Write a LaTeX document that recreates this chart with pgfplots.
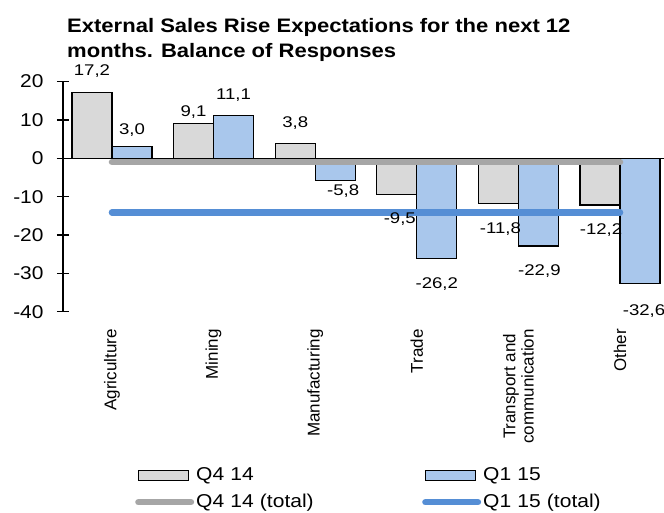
\documentclass[border=0pt]{standalone}
\usepackage{pgfplots}
\pgfplotsset{compat=1.18}
\usepackage{pgfplotstable}
\usepackage{fontspec}
\setmainfont{Liberation Sans}
\newfontfamily\tickfont{Liberation Sans}[FakeStretch=1.13]
\newfontfamily\labfont{Liberation Sans}[FakeStretch=1.2]
\newfontfamily\legfont{Liberation Sans}[FakeStretch=1.13]
\newfontfamily\titfont{Liberation Sans}[FakeStretch=1.13]
\definecolor{barGray}{HTML}{D9D9D9}
\definecolor{barBlue}{HTML}{A9C7EC}
\definecolor{lineGray}{HTML}{A6A6A6}
\definecolor{lineBlue}{HTML}{558ED5}

% x = category, y = balance, dx/dy = label offset in pt
\pgfplotstableread{
x  y     dx  dy
0  17.2  0   21.5
1  9.1   0   11.3
2  3.8   0   20.8
3  -9.5  3   -24.3
4  -11.8 2   -25.5
5  -12.2 1   -24.5
}\qfour
\pgfplotstableread{
x  y     dx  dy
0  3.0   0   16.5
1  11.1  0   20.8
2  -5.8  8   -10.3
3  -26.2 0   -25.5
4  -22.9 1   -25.3
5  -32.6 4   -27.3
}\qone

\pgfplotsset{
  barlabels/.style={nodes near coords={\pgfmathprintnumber[fixed,fixed zerofill,precision=1,use comma,assume math mode=true]{\pgfplotspointmeta}},
    visualization depends on={\thisrow{dx} \as \dx},
    visualization depends on={\thisrow{dy} \as \dy},
    nodes near coords style={anchor=center, xshift=#1, xshift=\dx pt, yshift=\dy pt, text=black,
      font=\labfont\fontsize{15.5}{17}\selectfont}},
  boxlegend/.style={legend image code/.code={\draw[##1] (3pt,-5pt) rectangle (53pt,5pt);}},
  linelegend/.style={legend image code/.code={\draw[##1] (3.25pt,0pt) -- (55.75pt,0pt);}},
}

\begin{document}
\begin{tikzpicture}
\begin{axis}[name=ax, scale only axis, width=601pt, height=230.1pt,
  xmin=-0.482, xmax=5.433, ymin=-40, ymax=20, clip=false,
  ytick={-40,-30,...,20},
  xtick={0,...,5},
  xticklabels={Agriculture,Mining,Manufacturing,Trade,{Transport and\\communication},Other},
  axis y line*=left, axis x line*=bottom,
  x axis line style={draw=none}, xtick style={draw=none},
  y axis line style={line width=1.4pt, -},
  ytick style={line width=1.2pt, black}, tick align=center, major tick length=12pt,
  yticklabel style={font=\tickfont\fontsize{18.5}{20}\selectfont, xshift=-10pt,
    /pgf/number format/assume math mode=true},
  xticklabel style={rotate=90, anchor=east, align=center, font=\fontsize{17}{18.3}\selectfont},
  xticklabel shift=8pt,
  extra y ticks={0}, extra y tick labels={},
  extra y tick style={grid=major, major grid style={black, line width=1.4pt}},
  title={External Sales Rise Expectations for the next 12\\months. Balance of Responses},
  title style={at={(0,1)}, anchor=north west, xshift=4pt, yshift=57pt, align=left,
    inner sep=0pt, font=\titfont\fontsize{19.5}{24.3}\selectfont\bfseries},
  legend columns=2, legend cell align=left,
  legend style={draw=none, fill=none, inner sep=0pt, at={(0.1198,-0.6706)}, anchor=north west,
    font=\legfont\fontsize{18.6}{20}\selectfont, column sep=2pt, row sep=9pt,
    nodes={inner sep=0pt, text width=224pt, text height=14pt, text depth=4pt}},
]
\addplot[ybar, bar width=40pt, bar shift=-20pt, fill=barGray, draw=black, line width=1.3pt,
  barlabels=-20pt, boxlegend] table[x=x, y=y] {\qfour};
\addlegendentry{Q4 14}
\addplot[ybar, bar width=40pt, bar shift=20pt, fill=barBlue, draw=black, line width=1.3pt,
  barlabels=20pt, boxlegend] table[x=x, y=y] {\qone};
\addlegendentry{Q1 15}
\addplot[lineGray, line width=6.5pt, line cap=round, linelegend] coordinates {(0,-1.0) (5,-1.0)};
\addlegendentry{Q4 14 (total)}
\addplot[lineBlue, line width=6.5pt, line cap=round, linelegend] coordinates {(0,-14.1) (5,-14.1)};
\addlegendentry{Q1 15 (total)}
\end{axis}
\pgfresetboundingbox
\path[use as bounding box] ([xshift=-63pt,yshift=-201.3pt]ax.south west) rectangle ([yshift=81.6pt]ax.north east);
\end{tikzpicture}
\end{document}
